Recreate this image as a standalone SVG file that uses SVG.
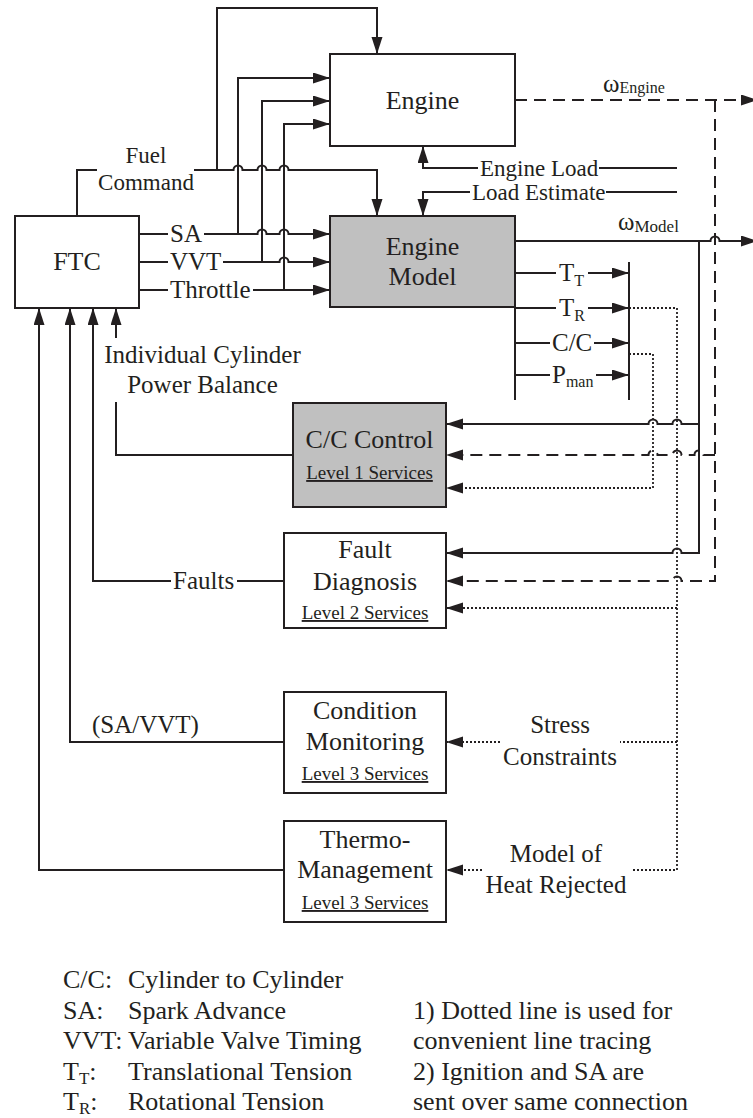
<svg xmlns="http://www.w3.org/2000/svg" width="753" height="1118" viewBox="0 0 753 1118" font-family="'Liberation Serif', 'Times New Roman', Times, 'DejaVu Serif', serif">
<style>
text{font-family:'Liberation Serif','Times New Roman',Times,'DejaVu Serif',serif;fill:#231f20}
.f26{font-size:26px}.f25{font-size:25px}.f23{font-size:23px}.f19{font-size:19px}
.m{text-anchor:middle}
.u{text-decoration:underline}
.box{fill:#fff;stroke:#231f20;stroke-width:2}
.gray{fill:#c0c0c0}
.ln{fill:none;stroke:#231f20;stroke-width:2}
.dash{stroke-dasharray:12 7}
.dot{stroke-dasharray:2 2;stroke-width:1.8}
</style>
<defs>
<marker id="ah" markerUnits="userSpaceOnUse" markerWidth="18" markerHeight="12" refX="17" refY="5.5" orient="auto"><path d="M0,0 L17,5.5 L0,11 z" fill="#231f20"/></marker>
</defs>

<g id="connectors">
  <path class="ln" d="M77,216 V170 H97"/>
  <path class="ln" marker-end="url(#ah)" d="M217,170 V8 H377 V54"/>
  <path class="ln" marker-end="url(#ah)" d="M194,170 H233.5 A4.5,4.5 0 0 1 242.5,170 H257.5 A4.5,4.5 0 0 1 266.5,170 H279.5 A4.5,4.5 0 0 1 288.5,170 H377 V216"/>
  <path class="ln" d="M139,234 H168"/>
  <path class="ln" marker-end="url(#ah)" d="M204,234 H257.5 A4.5,4.5 0 0 1 266.5,234 H279.5 A4.5,4.5 0 0 1 288.5,234 H330"/>
  <path class="ln" marker-end="url(#ah)" d="M238,234 V78 H330"/>
  <path class="ln" d="M139,262 H168"/>
  <path class="ln" marker-end="url(#ah)" d="M223,262 H279.5 A4.5,4.5 0 0 1 288.5,262 H330"/>
  <path class="ln" marker-end="url(#ah)" d="M262,262 V101 H330"/>
  <path class="ln" d="M139,290 H168"/>
  <path class="ln" marker-end="url(#ah)" d="M253,290 H330"/>
  <path class="ln" marker-end="url(#ah)" d="M284,290 V124 H330"/>
  <path class="ln" d="M677,168 H599"/>
  <path class="ln" marker-end="url(#ah)" d="M478,168 H423 V146"/>
  <path class="ln" d="M677,192 H606"/>
  <path class="ln" marker-end="url(#ah)" d="M470,192 H423 V216"/>
  <path class="ln dash" marker-end="url(#ah)" d="M515,100 H758"/>
  <path class="ln dash" marker-end="url(#ah)" d="M715,100 V581 H681.5 A4.5,4.5 0 0 0 672.5,581 H446"/>
  <path class="ln dash" marker-end="url(#ah)" d="M715,455 H703.5 A4.5,4.5 0 0 0 694.5,455 H681.5 A4.5,4.5 0 0 0 672.5,455 H657.5 A4.5,4.5 0 0 0 648.5,455 H446"/>
  <path class="ln" marker-end="url(#ah)" d="M515,241 H710.5 A4.5,4.5 0 0 1 719.5,241 H758"/>
  <path class="ln" marker-end="url(#ah)" d="M699,241 V553 H681.5 A4.5,4.5 0 0 0 672.5,553 H446"/>
  <path class="ln" marker-end="url(#ah)" d="M699,424 H681.5 A4.5,4.5 0 0 0 672.5,424 H657.5 A4.5,4.5 0 0 0 648.5,424 H446"/>
  <path class="ln" d="M515,307 V400"/>
  <path class="ln" d="M629,262 V400"/>
  <path class="ln" d="M515,273 H556"/>
  <path class="ln" marker-end="url(#ah)" d="M588,273 H629"/>
  <path class="ln" d="M515,308 H556"/>
  <path class="ln" marker-end="url(#ah)" d="M588,308 H629"/>
  <path class="ln" d="M515,343 H550"/>
  <path class="ln" marker-end="url(#ah)" d="M594,343 H629"/>
  <path class="ln" d="M515,375 H550"/>
  <path class="ln" marker-end="url(#ah)" d="M596,375 H629"/>
  <path class="ln dot" d="M629,308 H677 V870 H632"/>
  <path class="ln dot" marker-end="url(#ah)" d="M482,870 H446"/>
  <path class="ln dot" d="M677,742 H620"/>
  <path class="ln dot" marker-end="url(#ah)" d="M500,742 H446"/>
  <path class="ln dot" marker-end="url(#ah)" d="M677,608 H446"/>
  <path class="ln dot" marker-end="url(#ah)" d="M629,354 H653 V488 H446"/>
  <path class="ln" marker-end="url(#ah)" d="M116,338 V308"/>
  <path class="ln" d="M293,455 H116 V402"/>
  <path class="ln" d="M284,581 H237"/>
  <path class="ln" marker-end="url(#ah)" d="M171,581 H93 V308"/>
  <path class="ln" marker-end="url(#ah)" d="M284,742 H70 V308"/>
  <path class="ln" marker-end="url(#ah)" d="M284,870 H39 V308"/>
</g>

<g id="labels">
  <text class="f23 m" x="146" y="163">Fuel</text>
  <text class="f23 m" x="146" y="190">Command</text>
  <text class="f25" x="170" y="242">SA</text>
  <text class="f25" x="170" y="270">VVT</text>
  <text class="f25" x="170" y="298">Throttle</text>
  <text class="f23" x="480" y="176">Engine Load</text>
  <text class="f23" x="472" y="200">Load Estimate</text>
  <text x="603" y="92" font-size="25">ω<tspan font-size="16" dy="1">Engine</tspan></text>
  <text x="618" y="230" font-size="25">ω<tspan font-size="17" dy="2">Model</tspan></text>
  <text class="f25" x="559" y="281">T<tspan font-size="16" dy="5">T</tspan></text>
  <text class="f25" x="559" y="316">T<tspan font-size="16" dy="5">R</tspan></text>
  <text class="f25" x="552" y="351">C/C</text>
  <text class="f25" x="552" y="383">P<tspan font-size="16" dy="4">man</tspan></text>
  <text class="f25 m" x="202.5" y="363">Individual Cylinder</text>
  <text class="f25 m" x="202.5" y="393">Power Balance</text>
  <text class="f25" x="173" y="589">Faults</text>
  <text class="f25" x="92" y="733">(SA/VVT)</text>
  <text class="f25 m" x="560" y="733">Stress</text>
  <text class="f25 m" x="560" y="765">Constraints</text>
  <text class="f25 m" x="556" y="862">Model of</text>
  <text class="f25 m" x="556" y="893">Heat Rejected</text>
</g>

<g id="ftc">
  <rect class="box" x="15" y="216" width="124" height="92"/>
  <text class="f26 m" x="77" y="270">FTC</text>
</g>
<g id="engine">
  <rect class="box" x="330" y="54" width="185" height="92"/>
  <text class="f26 m" x="422.5" y="109">Engine</text>
</g>
<g id="engine-model">
  <rect class="box gray" x="330" y="216" width="185" height="91"/>
  <text class="f26 m" x="422.5" y="255">Engine</text>
  <text class="f26 m" x="422.5" y="285">Model</text>
</g>
<g id="cc-control">
  <rect class="box gray" x="293" y="403" width="153" height="104"/>
  <text class="f26 m" x="369.5" y="448">C/C Control</text>
  <text class="f19 m u" x="369.5" y="479">Level 1 Services</text>
</g>
<g id="fault-diagnosis">
  <rect class="box" x="284" y="533" width="162" height="95"/>
  <text class="f26 m" x="365" y="558">Fault</text>
  <text class="f26 m" x="365" y="590">Diagnosis</text>
  <text class="f19 m u" x="365" y="619">Level 2 Services</text>
</g>
<g id="condition-monitoring">
  <rect class="box" x="284" y="692" width="162" height="101"/>
  <text class="f26 m" x="365" y="719">Condition</text>
  <text class="f26 m" x="365" y="750">Monitoring</text>
  <text class="f19 m u" x="365" y="780">Level 3 Services</text>
</g>
<g id="thermo-management">
  <rect class="box" x="284" y="821" width="162" height="101"/>
  <text class="f26 m" x="365" y="848">Thermo-</text>
  <text class="f26 m" x="365" y="878">Management</text>
  <text class="f19 m u" x="365" y="909">Level 3 Services</text>
</g>

<g id="legend">
  <text class="f26" x="63" y="988">C/C:</text>
  <text class="f26" x="128" y="988">Cylinder to Cylinder</text>
  <text class="f26" x="63" y="1019">SA:</text>
  <text class="f26" x="128" y="1019">Spark Advance</text>
  <text class="f26" x="63" y="1049">VVT:</text>
  <text class="f26" x="128" y="1049">Variable Valve Timing</text>
  <text class="f26" x="63" y="1080">T<tspan font-size="17" dy="4">T</tspan><tspan dy="-4">:</tspan></text>
  <text class="f26" x="128" y="1080">Translational Tension</text>
  <text class="f26" x="63" y="1110">T<tspan font-size="17" dy="4">R</tspan><tspan dy="-4">:</tspan></text>
  <text class="f26" x="128" y="1110">Rotational Tension</text>
  <text class="f26" x="413" y="1019">1) Dotted line is used for</text>
  <text class="f26" x="413" y="1049">convenient line tracing</text>
  <text class="f26" x="413" y="1080">2) Ignition and SA are</text>
  <text class="f26" x="413" y="1110">sent over same connection</text>
</g>
</svg>
